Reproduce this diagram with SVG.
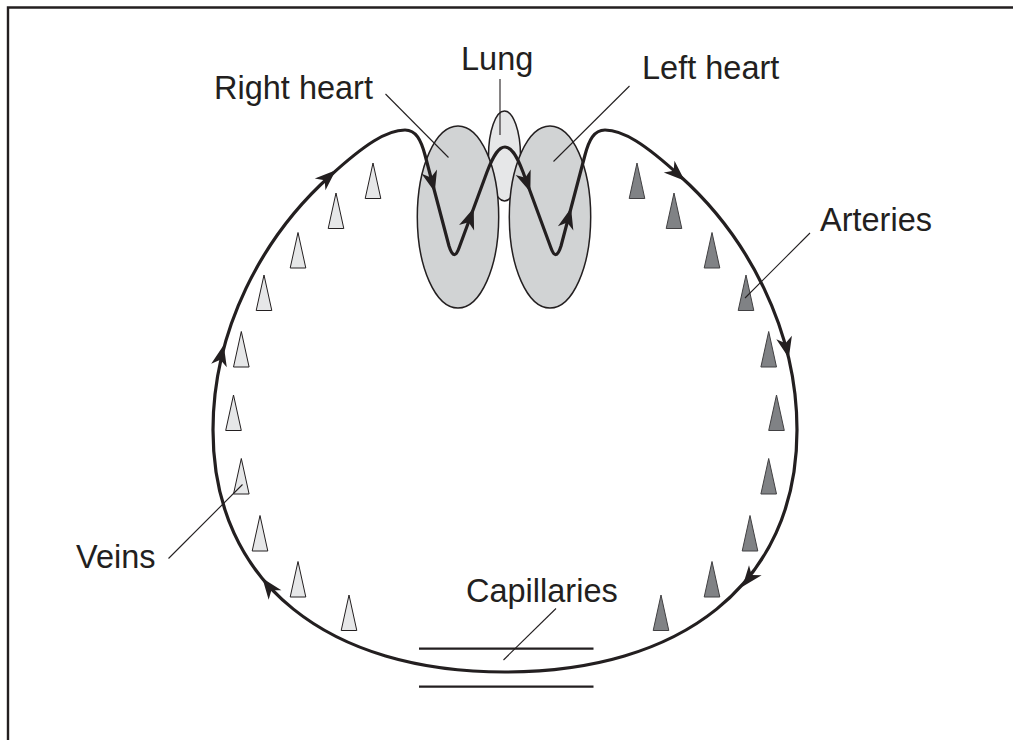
<svg xmlns="http://www.w3.org/2000/svg" xmlns:xlink="http://www.w3.org/1999/xlink" width="1013" height="740" viewBox="0 0 1013 740">
<style>
.lbl{font-family:"Liberation Sans",Arial,sans-serif;font-size:32.5px;fill:#231f20}
.lead{stroke:#231f20;stroke-width:1.1;fill:none}
.flow{stroke:#231f20;stroke-width:3.2;fill:none;stroke-linejoin:round}
.heart{fill:#d1d3d4;stroke:#231f20;stroke-width:1.5}
.lung{fill:#e6e7e8;stroke:#231f20;stroke-width:1.5}
.vein{fill:#e6e7e8;stroke:#231f20;stroke-width:1}
.art{fill:#808285;stroke:#414042;stroke-width:1}
.ah{fill:#231f20}
.cap{stroke:#231f20;stroke-width:2.2}
</style>
<defs>
<path id="tri" d="M0,0 L7.8,35.5 L-7.8,35.5 Z"/>
<path id="arr" d="M1,0 L-20,-8 L-14,0 L-20,8 Z"/>
</defs>
<rect width="1013" height="740" fill="#ffffff"/>
<path id="frame" d="M8,740 V7.5 H1013" fill="none" stroke="#231f20" stroke-width="2.4"/>

<g id="lung"><ellipse class="lung" cx="504.5" cy="156" rx="16" ry="45"/></g>
<g id="right-heart"><ellipse class="heart" cx="458" cy="217" rx="40.7" ry="91"/></g>
<g id="left-heart"><ellipse class="heart" cx="550" cy="217" rx="40.7" ry="91"/></g>

<g id="veins">
<use xlink:href="#tri" class="vein" x="373" y="163"/>
<use xlink:href="#tri" class="vein" x="336" y="193"/>
<use xlink:href="#tri" class="vein" x="298" y="232.5"/>
<use xlink:href="#tri" class="vein" x="264" y="275"/>
<use xlink:href="#tri" class="vein" x="241.3" y="331.5"/>
<use xlink:href="#tri" class="vein" x="233.5" y="395"/>
<use xlink:href="#tri" class="vein" x="241.3" y="458.5"/>
<use xlink:href="#tri" class="vein" x="260" y="515.5"/>
<use xlink:href="#tri" class="vein" x="298" y="561.5"/>
<use xlink:href="#tri" class="vein" x="349" y="595"/>
</g>
<g id="arteries">
<use xlink:href="#tri" class="art" x="637" y="163"/>
<use xlink:href="#tri" class="art" x="674" y="193"/>
<use xlink:href="#tri" class="art" x="712" y="232.5"/>
<use xlink:href="#tri" class="art" x="746" y="275"/>
<use xlink:href="#tri" class="art" x="768.7" y="331.5"/>
<use xlink:href="#tri" class="art" x="776.5" y="395"/>
<use xlink:href="#tri" class="art" x="768.7" y="458.5"/>
<use xlink:href="#tri" class="art" x="750" y="515.5"/>
<use xlink:href="#tri" class="art" x="712" y="561.5"/>
<use xlink:href="#tri" class="art" x="661" y="595"/>
</g>
<g id="capillaries">
<line class="cap" x1="419" y1="648.7" x2="593.5" y2="648.7"/>
<line class="cap" x1="419" y1="686.7" x2="593.5" y2="686.7"/>
</g>

<g id="connectors">
<path id="circulation" class="flow" d="M505,672 C330,672 213,585 213,430 C213,330 262,237 330,176 C365,144 387,130 405,130 C416,130 421,140 425,155 L449,246 Q454,262 459,248 L487,172 C494,154 499,147 505,147 C511,147 516,154 523,172 L551,248 Q556,262 561,246 L585,155 C589,140 594,130 605,130 C623,130 645,144 680,176 C748,237 797,330 797,430 C797,585 680,672 505,672 Z"/>
<use xlink:href="#arr" class="ah" transform="translate(335,171) rotate(-42)"/>
<use xlink:href="#arr" class="ah" transform="translate(684,180) rotate(42)"/>
<use xlink:href="#arr" class="ah" transform="translate(788.6,357) rotate(77)"/>
<use xlink:href="#arr" class="ah" transform="translate(743,586) rotate(128)"/>
<use xlink:href="#arr" class="ah" transform="translate(263,579) rotate(-127)"/>
<use xlink:href="#arr" class="ah" transform="translate(223.5,346) rotate(-77)"/>
<use xlink:href="#arr" class="ah" transform="translate(434.5,191) rotate(75)"/>
<use xlink:href="#arr" class="ah" transform="translate(473.4,209) rotate(-70)"/>
<use xlink:href="#arr" class="ah" transform="translate(530,191) rotate(70)"/>
<use xlink:href="#arr" class="ah" transform="translate(570.8,209) rotate(-75)"/>
<line class="lead" x1="385.5" y1="94" x2="448.5" y2="157.5"/>
<line class="lead" x1="500" y1="79" x2="500" y2="135"/>
<line class="lead" x1="629.5" y1="86" x2="553.5" y2="161.5"/>
<line class="lead" x1="810" y1="233" x2="745" y2="298"/>
<line class="lead" x1="168.5" y1="558.5" x2="242.5" y2="484.5"/>
<line class="lead" x1="556" y1="608.5" x2="503.5" y2="660"/>
</g>

<g id="labels">
<text class="lbl" x="214" y="99">Right heart</text>
<text class="lbl" x="461" y="70">Lung</text>
<text class="lbl" x="642" y="78.5">Left heart</text>
<text class="lbl" x="820" y="231">Arteries</text>
<text class="lbl" x="76" y="567.5">Veins</text>
<text class="lbl" x="466" y="601.5">Capillaries</text>
</g>
</svg>
